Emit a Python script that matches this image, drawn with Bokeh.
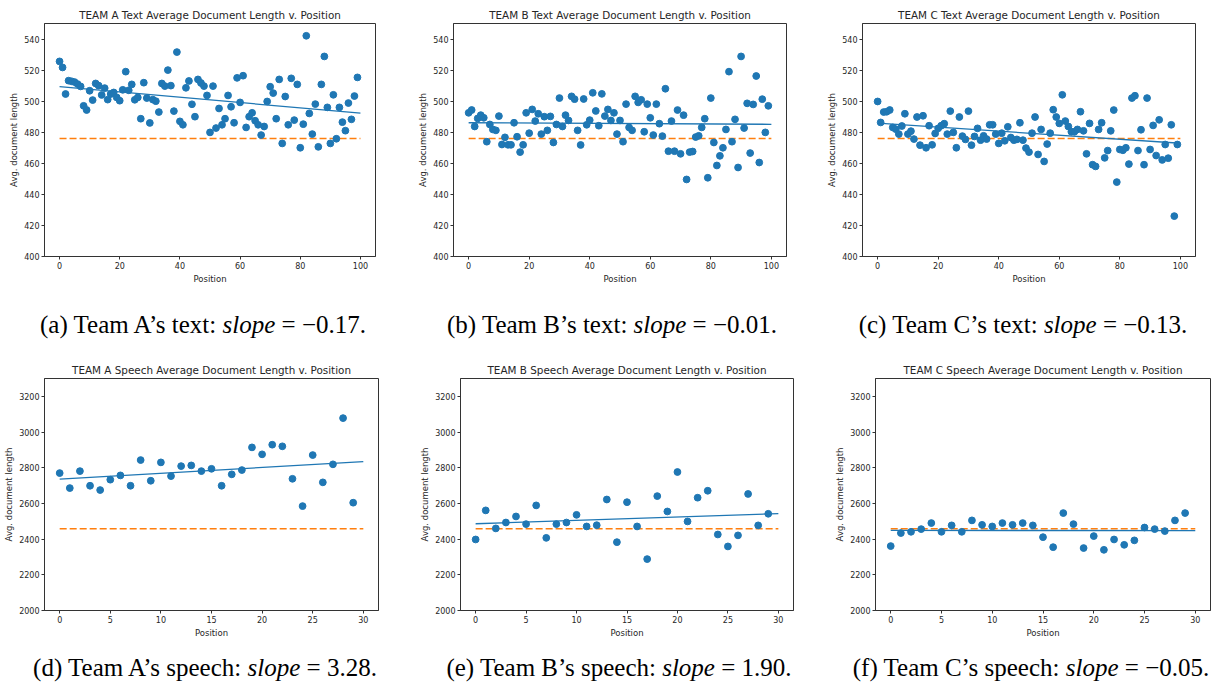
from bokeh.plotting import figure
from bokeh.layouts import column, row
from bokeh.models import Div, Range1d, FixedTicker
from bokeh.embed import file_html
from bokeh.resources import INLINE

# ---------------- data ----------------
text_pos = list(range(100))
speech_pos = list(range(30))

a_text = [525.6, 521.7, 504.6, 513.2, 512.8, 512.3, 511.0, 509.5, 497.0, 494.3,
          506.7, 500.7, 511.4, 510.0, 504.0, 508.4, 501.0, 504.6, 505.6, 502.4,
          500.3, 507.3, 519.0, 507.0, 510.8, 500.9, 502.4, 488.7, 511.9, 502.0,
          486.0, 501.0, 500.0, 493.0, 511.4, 509.7, 520.0, 510.0, 493.6, 531.6,
          487.0, 484.8, 508.6, 513.0, 498.0, 490.0, 514.0, 511.7, 509.7, 503.7,
          479.9, 509.7, 482.7, 495.3, 484.8, 488.7, 503.7, 496.4, 486.1, 515.0,
          499.2, 516.4, 483.1, 490.0, 492.5, 487.4, 484.8, 478.2, 483.7, 499.8,
          509.3, 505.2, 488.7, 514.0, 472.8, 503.0, 484.8, 514.7, 487.8, 510.8,
          470.0, 485.2, 542.1, 492.1, 478.8, 498.1, 470.6, 510.8, 528.8, 496.0,
          472.8, 504.1, 475.8, 496.0, 486.5, 481.0, 498.8, 488.3, 503.3, 515.3]

b_text = [492.5, 494.3, 483.7, 488.9, 491.0, 489.3, 473.9, 485.0, 481.8, 481.2,
          490.4, 472.1, 476.7, 471.9, 471.9, 486.1, 477.1, 467.2, 471.9, 492.5,
          479.4, 494.7, 487.2, 491.9, 478.8, 490.0, 481.2, 490.2, 473.4, 485.0,
          502.0, 483.7, 491.0, 487.6, 503.1, 501.3, 481.2, 471.8, 501.4, 484.8,
          487.8, 505.4, 493.7, 484.2, 504.7, 490.4, 494.7, 487.6, 492.5, 478.8,
          487.6, 473.9, 498.1, 483.1, 481.2, 503.1, 499.2, 500.9, 480.3, 498.1,
          489.3, 478.2, 498.1, 485.5, 477.5, 508.0, 467.8, 487.2, 467.8, 494.3,
          466.1, 491.0, 449.6, 467.2, 467.6, 476.9, 477.7, 483.1, 488.7, 450.7,
          502.0, 473.4, 458.6, 464.8, 470.0, 481.8, 519.0, 473.9, 488.3, 457.3,
          528.8, 482.7, 498.6, 466.6, 497.9, 516.2, 460.5, 501.3, 479.9, 497.0]

c_text = [499.8, 486.3, 493.0, 493.2, 494.3, 483.1, 482.0, 478.8, 484.0, 491.9,
          478.8, 480.7, 475.6, 489.8, 471.7, 490.6, 470.0, 484.2, 471.9, 479.2,
          482.5, 484.2, 485.5, 478.8, 493.6, 479.9, 470.0, 489.8, 477.5, 475.4,
          493.6, 471.7, 477.3, 482.5, 474.9, 477.7, 475.6, 484.8, 484.8, 478.8,
          472.8, 479.4, 474.5, 483.5, 476.6, 474.9, 475.4, 486.1, 474.9, 469.8,
          467.2, 479.4, 489.8, 465.7, 481.8, 461.2, 472.4, 479.4, 494.5, 489.8,
          485.7, 504.1, 487.2, 483.7, 480.3, 480.3, 481.8, 493.2, 480.9, 466.1,
          485.7, 459.1, 458.0, 481.8, 486.1, 463.5, 468.2, 480.9, 494.3, 447.9,
          468.9, 468.4, 470.0, 459.5, 502.0, 503.5, 468.2, 481.6, 459.1, 502.0,
          468.9, 484.4, 465.0, 488.0, 462.2, 472.1, 463.3, 484.8, 426.0, 472.1]

a_speech = [2770, 2686, 2781, 2699, 2675, 2733, 2757, 2699, 2843, 2727,
            2830, 2753, 2809, 2813, 2781, 2794, 2699, 2763, 2787, 2914,
            2875, 2929, 2920, 2738, 2585, 2871, 2718, 2819, 3078, 2604]
b_speech = [2398, 2561, 2460, 2493, 2527, 2484, 2589, 2407, 2484, 2493,
            2536, 2471, 2478, 2622, 2383, 2607, 2471, 2288, 2641, 2555,
            2776, 2499, 2632, 2671, 2426, 2359, 2421, 2653, 2477, 2542]
c_speech = [2361, 2434, 2441, 2456, 2490, 2441, 2477, 2441, 2505, 2480,
            2471, 2490, 2480, 2490, 2477, 2411, 2355, 2546, 2484, 2350,
            2417, 2340, 2398, 2368, 2393, 2465, 2456, 2445, 2505, 2546]

text_slopes = [-0.17, -0.01, -0.13]
text_intercepts = [509.3, 486.1, 485.9]
speech_slopes = [3.28, 1.90, -0.05]
speech_intercepts = [2736, 2486, 2449]
text_mean = 476
speech_mean = 2458
text_fit_x = [0, 100]
speech_fit_x = [0, 30]

text_titles = ["TEAM A Text Average Document Length v. Position",
               "TEAM B Text Average Document Length v. Position",
               "TEAM C Text Average Document Length v. Position"]
speech_titles = ["TEAM A Speech Average Document Length v. Position",
                 "TEAM B Speech Average Document Length v. Position",
                 "TEAM C Speech Average Document Length v. Position"]
text_xticks = [0, 20, 40, 60, 80, 100]
text_yticks = [400, 420, 440, 460, 480, 500, 520, 540]
speech_xticks = [0, 5, 10, 15, 20, 25, 30]
speech_yticks = [2000, 2200, 2400, 2600, 2800, 3000, 3200]

text_captions = [("(a) Team A’s text: ", "slope", " = −0.17."),
                 ("(b) Team B’s text: ", "slope", " = −0.01."),
                 ("(c) Team C’s text: ", "slope", " = −0.13.")]
speech_captions = [("(d) Team A’s speech: ", "slope", " = 3.28."),
                   ("(e) Team B’s speech: ", "slope", " = 1.90."),
                   ("(f) Team C’s speech: ", "slope", " = −0.05.")]

BLUE = "#1f77b4"
ORANGE = "#ff7f0e"
TXT = "#262626"


def panel(title, xs, ys, slope, intercept, mean, fit_x, xr, yr, xticks, yticks,
          fw, fh, bl, br, bt, bb):
    p = figure(frame_width=fw, frame_height=fh, x_range=Range1d(*xr), y_range=Range1d(*yr),
               output_backend="svg", toolbar_location=None,
               min_border_left=bl, min_border_right=br, min_border_top=bt, min_border_bottom=bb,
               title=title)
    p.title.text_font = "DejaVu Sans"
    p.title.text_font_size = "10.4px"
    p.title.text_font_style = "normal"
    p.title.text_color = TXT
    p.title.align = "center"
    p.title.standoff = 5
    p.outline_line_color = "#333333"
    p.outline_line_width = 1
    p.xgrid.visible = False
    p.ygrid.visible = False
    p.background_fill_color = "white"
    p.border_fill_color = "white"
    p.xaxis.ticker = FixedTicker(ticks=xticks)
    p.yaxis.ticker = FixedTicker(ticks=yticks)
    p.xaxis.axis_label = "Position"
    p.yaxis.axis_label = "Avg. document length"
    for ax in (p.xaxis[0], p.yaxis[0]):
        ax.axis_line_color = "#333333"
        ax.major_tick_line_color = "#333333"
        ax.major_tick_out = 3
        ax.major_tick_in = 0
        ax.minor_tick_line_color = None
        ax.major_label_text_font = "DejaVu Sans"
        ax.major_label_text_font_size = "8px"
        ax.major_label_text_color = TXT
        ax.major_label_standoff = 2
        ax.axis_label_text_font = "DejaVu Sans"
        ax.axis_label_text_font_size = "8.5px"
        ax.axis_label_text_font_style = "normal"
        ax.axis_label_text_color = TXT
        ax.axis_label_standoff = 2
    fit_y = [intercept + slope * x for x in fit_x]
    p.line(fit_x, [mean, mean], line_color=ORANGE, line_width=1.6, line_dash="7 3")
    p.line(fit_x, fit_y, line_color=BLUE, line_width=1.3)
    p.scatter(xs, ys, size=6.8, fill_color=BLUE, line_color=BLUE)
    return p


# top row (text)
text_series = [a_text, b_text, c_text]
top_geom = [(331, 44, 34), (333, 44, 32), (333, 44, 20)]
top = []
for i in range(3):
    fw, bl, br = top_geom[i]
    top.append(panel(text_titles[i], text_pos, text_series[i], text_slopes[i], text_intercepts[i],
                     text_mean, text_fit_x, (-5, 105), (400, 550), text_xticks, text_yticks,
                     fw, 233, bl, br, 23, 35))

speech_series = [a_speech, b_speech, c_speech]
bot_geom = [(334, 44, 38), (333, 44, 38), (335, 44, 10)]
bot = []
for i in range(3):
    fw, bl, br = bot_geom[i]
    bot.append(panel(speech_titles[i], speech_pos, speech_series[i], speech_slopes[i], speech_intercepts[i],
                     speech_mean, speech_fit_x, (-1.5, 31.5), (2000, 3300), speech_xticks, speech_yticks,
                     fw, 232, bl, br, 23, 35))


def caption_div(caps, centers, top_px, height):
    spans = []
    for (pre, it, post), cx in zip(caps, centers):
        spans.append(
            f'<span style="position:absolute;left:{cx}px;top:{top_px}px;transform:translateX(-50%);'
            f'white-space:nowrap;">{pre}<i>{it}</i>{post}</span>')
    html = (f'<div style="position:relative;width:1220px;height:{height}px;'
            f"font-family:'Liberation Serif','Times New Roman',serif;font-size:25px;color:#000;line-height:28px;\">"
            + "".join(spans) + "</div>")
    return Div(text=html, width=1220, height=height, margin=(0, 0, 0, 0))


cap1 = caption_div(text_captions, [203, 612, 1023], 20, 64)
cap2 = caption_div(speech_captions, [205, 619, 1031], 9, 43)

layout = column(row(*top, spacing=0), cap1, row(*bot, spacing=0), cap2, spacing=0)

open("out.html", "w").write(file_html(layout, INLINE))
